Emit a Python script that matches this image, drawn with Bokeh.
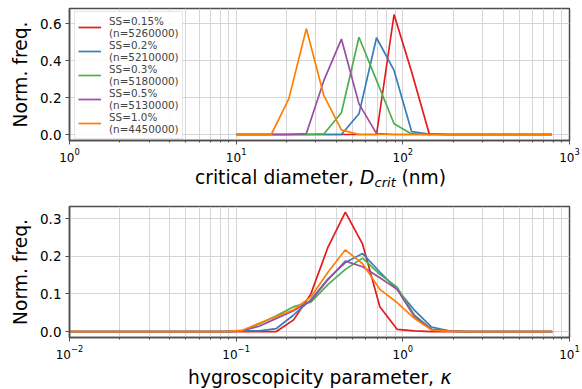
from bokeh.plotting import figure
from bokeh.layouts import column
from bokeh.models import (FixedTicker, Legend, LegendItem,
                          PrintfTickFormatter, Range1d)
from bokeh.core.properties import value
from bokeh.embed import file_html
from bokeh.resources import INLINE

FONT = "DejaVu Sans"

# ---------------- data ----------------
dcrit_nm = [10.0, 12.74, 16.24, 20.69, 26.37, 33.60, 42.81, 54.56, 69.52, 88.59,
            112.88, 143.84, 183.30, 233.57, 297.64, 379.27, 483.29, 615.85, 784.76]

dcrit_ss015 = [0, 0, 0, 0, 0, 0, 0, 0, 0.0, 0.650, 0.340, 0.005, 0, 0, 0, 0, 0, 0, 0]
dcrit_ss02  = [0, 0, 0, 0, 0, 0, 0, 0.112, 0.524, 0.347, 0.016, 0.002, 0, 0, 0, 0, 0, 0, 0]
dcrit_ss03  = [0, 0, 0, 0, 0, 0.003, 0.118, 0.527, 0.293, 0.058, 0.003, 0, 0, 0, 0, 0, 0, 0, 0]
dcrit_ss05  = [0, 0, 0, 0, 0.005, 0.293, 0.517, 0.166, 0.005, 0, 0, 0, 0, 0, 0, 0, 0, 0, 0]
dcrit_ss10  = [0, 0, 0, 0.193, 0.573, 0.210, 0.025, 0, 0, 0, 0, 0, 0, 0, 0, 0, 0, 0, 0]

kappa = [0.01, 0.01269, 0.016103, 0.020434, 0.025929, 0.032903, 0.041753, 0.052983,
         0.067234, 0.085317, 0.10826, 0.13738, 0.17433, 0.22122, 0.28072, 0.35622,
         0.45203, 0.57361, 0.72790, 0.92367, 1.1721, 1.4874, 1.8874, 2.3950, 3.0392,
         3.8566, 4.8939, 6.2102, 7.8805]

kappa_ss015 = [0, 0, 0, 0, 0, 0, 0, 0, 0, 0, 0, 0, 0, 0.031, 0.100, 0.225, 0.317, 0.232,
               0.066, 0.006, 0.002, 0, 0, 0, 0, 0, 0, 0, 0]
kappa_ss02  = [0, 0, 0, 0, 0, 0, 0, 0, 0, 0, 0.002, 0.002, 0.008, 0.044, 0.084, 0.140, 0.183,
               0.207, 0.158, 0.112, 0.057, 0.012, 0.002, 0, 0, 0, 0, 0, 0]
kappa_ss03  = [0, 0, 0, 0, 0, 0, 0, 0, 0, 0, 0.002, 0.020, 0.042, 0.066, 0.078, 0.125, 0.165,
               0.195, 0.152, 0.118, 0.044, 0.006, 0.001, 0, 0, 0, 0, 0, 0]
kappa_ss05  = [0, 0, 0, 0, 0, 0, 0, 0, 0, 0, 0.002, 0.014, 0.035, 0.055, 0.082, 0.138, 0.187,
               0.172, 0.143, 0.112, 0.040, 0.006, 0.002, 0, 0, 0, 0, 0, 0]
kappa_ss10  = [0, 0, 0, 0, 0, 0, 0, 0, 0, 0, 0.003, 0.022, 0.040, 0.058, 0.092, 0.158, 0.217,
               0.180, 0.112, 0.077, 0.035, 0.004, 0.001, 0, 0, 0, 0, 0, 0]

series_labels = ["SS=0.15%\n(n=5260000)", "SS=0.2%\n(n=5210000)", "SS=0.3%\n(n=5180000)",
                 "SS=0.5%\n(n=5130000)", "SS=1.0%\n(n=4450000)"]
colors = ["#e41a1c", "#377eb8", "#4daf4a", "#984ea3", "#ff7f00"]

top_yticks = [0.0, 0.2, 0.4, 0.6]
bottom_yticks = [0.0, 0.1, 0.2, 0.3]

top_xlabel_parts = ["critical diameter,", "D", "crit", "(nm)"]
bottom_xlabel_parts = ["hygroscopicity parameter,", "κ"]

GRID = "#d5d5d5"
SPINE = "#4d4d4d"
W = 582
LEFT, RIGHT = 69, 13


def decade_ticks(lo_exp, hi_exp):
    major = [10.0 ** e for e in range(lo_exp, hi_exp + 1)]
    minor = [m * 10.0 ** e for e in range(lo_exp, hi_exp) for m in range(2, 10)]
    return major, minor


def make_fig(height, xr, yr, lo_exp, hi_exp, yticks, bt, bb):
    p = figure(width=W, height=height, x_axis_type="log",
               x_range=Range1d(*xr), y_range=Range1d(*yr),
               output_backend="svg", toolbar_location=None,
               min_border_left=LEFT, min_border_right=RIGHT,
               min_border_top=bt, min_border_bottom=bb)
    major, minor = decade_ticks(lo_exp, hi_exp)
    p.xaxis.ticker = FixedTicker(ticks=major, minor_ticks=minor)
    p.yaxis.ticker = FixedTicker(ticks=yticks)
    p.yaxis.formatter = PrintfTickFormatter(format="%.1f")
    for ax in (p.xaxis[0], p.yaxis[0]):
        ax.axis_line_color = SPINE
        ax.axis_line_width = 1.5
        ax.major_tick_line_color = SPINE
        ax.minor_tick_line_color = SPINE
        ax.major_tick_in = 0
        ax.major_tick_out = 4
        ax.minor_tick_in = 0
        ax.minor_tick_out = 2
        ax.major_label_text_font = FONT
        ax.major_label_text_color = "black"
        ax.major_label_standoff = 4
    p.xaxis.major_label_text_font_size = "12px"
    p.xaxis.major_label_standoff = 3
    p.yaxis.major_label_text_font_size = "13.5px"
    p.yaxis.minor_tick_line_color = None
    p.yaxis.axis_label = "Norm. freq."
    p.yaxis.axis_label_text_font = FONT
    p.yaxis.axis_label_text_font_size = "18.67px"
    p.yaxis.axis_label_text_font_style = "normal"
    p.yaxis.axis_label_text_color = "black"
    p.yaxis.axis_label_standoff = 6
    p.xgrid.grid_line_color = GRID
    p.xgrid.minor_grid_line_color = GRID
    p.ygrid.grid_line_color = GRID
    p.outline_line_color = SPINE
    p.outline_line_width = 1.5
    p.outline_line_alpha = 1.0
    return p


def label_fig(height, parts, xs, ys, sizes, styles):
    """A strip of pure text under a panel; x in page pixels, y in pixels from strip bottom."""
    q = figure(width=W, height=height, x_range=Range1d(LEFT, W - RIGHT), y_range=Range1d(0, height),
               x_axis_type=None, y_axis_type=None, output_backend="svg",
               toolbar_location=None, min_border=0,
               min_border_left=LEFT, min_border_right=RIGHT, min_border_top=0, min_border_bottom=0)
    q.outline_line_color = None
    q.xgrid.visible = False
    q.ygrid.visible = False
    for t, x, y, s, st in zip(parts, xs, ys, sizes, styles):
        q.text(x=[x], y=[y], text=[t], text_font=value(FONT), text_font_size=value(s),
               text_font_style=st, text_color="black", text_baseline="middle",
               text_align="left")
    return q


# ---------------- top panel ----------------
p1 = make_fig(166, (1, 1000), (-0.0325, 0.6825), 0, 3, top_yticks, 8, 26)
renderers = []
for ys, c in zip([dcrit_ss015, dcrit_ss02, dcrit_ss03, dcrit_ss05, dcrit_ss10], colors):
    renderers.append(p1.line(dcrit_nm, ys, line_color=c, line_width=1.7))

legend = Legend(items=[LegendItem(label=l, renderers=[r]) for l, r in zip(series_labels, renderers)],
                location=(5, 1), label_text_font=FONT, label_text_font_size="10.4px",
                glyph_width=23, glyph_height=22, label_standoff=8, spacing=0,
                padding=3, margin=0, border_line_color="#cccccc", border_line_width=1,
                background_fill_alpha=0.85, label_text_line_height=1.0)
p1.add_layout(legend)

# strip spans page rows 166..195
lab1 = label_fig(29, top_xlabel_parts, [194.5, 359.5, 374.0, 401.0], [18.0, 18.0, 13.0, 18.0],
                 ["18.67px", "18.67px", "13.07px", "18.67px"],
                 ["normal", "italic", "italic", "normal"])

# ---------------- bottom panel ----------------
p2 = make_fig(170, (0.01, 10), (-0.0158, 0.332), -2, 1, bottom_yticks, 11, 28)
for ys, c in zip([kappa_ss015, kappa_ss02, kappa_ss03, kappa_ss05, kappa_ss10], colors):
    p2.line(kappa, ys, line_color=c, line_width=1.7)

lab2 = label_fig(24, bottom_xlabel_parts, [187.6, 440.1], [12.0, 12.0],
                 ["18.67px", "18.67px"], ["normal", "italic"])

layout = column(p1, lab1, p2, lab2, spacing=0)
open("out.html", "w").write(file_html(layout, INLINE))
